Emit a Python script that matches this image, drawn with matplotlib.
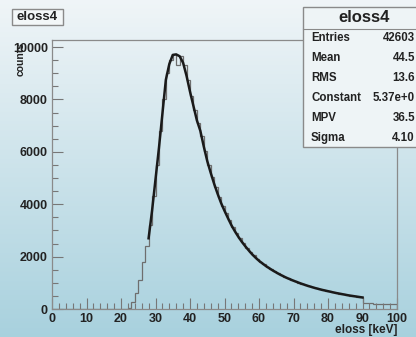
import numpy as np
import matplotlib
matplotlib.use('Agg')
import matplotlib.pyplot as plt
from matplotlib.patches import Rectangle
from matplotlib.ticker import MultipleLocator

# histogram contents, 1 keV bins from 0 to 100
bin_edges = list(range(0, 101))
counts = ([0] * 22 +
          [30, 250, 600, 1100, 1800, 2400, 3200, 4300, 5500, 6800,
           8000, 9000, 9500, 9750, 9300, 9650, 9300, 8750, 8150, 7600,
           7100, 6600, 6050, 5500, 5050, 4650, 4280, 3950, 3650, 3380,
           3120, 2900, 2700, 2510, 2340, 2190, 2050, 1920, 1800, 1700,
           1610, 1520, 1440, 1370, 1300, 1230, 1170, 1110, 1060, 1010,
           960, 915, 875, 835, 800, 765, 730, 700, 670, 640,
           610, 585, 560, 535, 510, 490, 470, 450,
           225, 220, 212, 205, 200, 200, 195, 190, 190, 185])

# landau fit curve as drawn
fit_x = [28, 29, 30, 31, 32, 33, 34, 35, 36, 37, 38, 39, 40, 41, 42, 43, 44,
         45, 46, 47, 48, 49, 50, 51, 52, 53, 54, 55, 56, 57, 58, 59, 60, 62,
         64, 66, 68, 70, 72, 74, 76, 78, 80, 82, 84, 86, 88, 90]
fit_y = [2700, 3750, 4950, 6150, 7450, 8750, 9350, 9700, 9720, 9650, 9400,
         8900, 8300, 7750, 7200, 6800, 6200, 5650, 5200, 4780, 4400, 4050,
         3750, 3470, 3200, 2970, 2760, 2570, 2400, 2240, 2090, 1960, 1840,
         1640, 1470, 1320, 1190, 1080, 980, 890, 810, 740, 680, 620, 570,
         520, 480, 440]

stat_names = ['Entries', 'Mean', 'RMS', 'Constant', 'MPV', 'Sigma']
stat_values = ['42603', '44.5', '13.6', '5.37e+0', '36.5', '4.10']

W, H = 416, 337
fig = plt.figure(figsize=(W / 100.0, H / 100.0), dpi=100)

# bluish slide background
bg = fig.add_axes([0, 0, 1, 1], zorder=-10)
top = np.array([0.94, 0.96, 0.97])
bot = np.array([0.66, 0.82, 0.87])
t = np.linspace(0, 1, 200)[:, None]
grad = (1 - t) * top + t * bot
bg.imshow(grad[:, None, :].repeat(2, axis=1), aspect='auto', extent=[0, 1, 0, 1])
bg.set_axis_off()

ax = fig.add_axes([52 / W, 1 - 309 / H, 345 / W, 269 / H])
ax.set_facecolor('none')
ax.stairs(counts, bin_edges, color='#6e6e6e', lw=0.9)
ax.plot(fit_x, fit_y, color='#1a1a1a', lw=1.8)

ax.set_xlim(0, 100)
ax.set_ylim(0, 10270)
ax.xaxis.set_major_locator(MultipleLocator(10))
ax.xaxis.set_minor_locator(MultipleLocator(2))
ax.yaxis.set_major_locator(MultipleLocator(2000))
ax.yaxis.set_minor_locator(MultipleLocator(500))
ax.tick_params(which='both', direction='in', color='#777777', width=0.8)
ax.tick_params(which='major', length=8, labelsize=9, pad=3)
ax.tick_params(which='minor', length=4)
for lab in ax.get_xticklabels() + ax.get_yticklabels():
    lab.set_fontweight('bold')
    lab.set_family('Liberation Sans')
    lab.set_color('#222222')
for s in ax.spines.values():
    s.set_color('#8a8a8a')
    s.set_linewidth(0.9)

fig.text(397 / W, 1 - 330 / H, 'eloss [keV]', ha='right', va='center',
         fontsize=8.5, fontweight='bold', family='Liberation Sans', color='#222222')
fig.text(21 / W, 1 - 42 / H, 'counts', rotation=90, ha='center', va='top',
         fontsize=7.5, fontweight='bold', family='Liberation Sans', color='#222222')

# title box
fig.patches.append(Rectangle((12 / W, 1 - 25 / H), 51 / W, 16 / H, transform=fig.transFigure,
                             facecolor='#f3f7f8', edgecolor='#8a8a8a', lw=1.0))
fig.text(37.5 / W, 1 - 17 / H, 'eloss4', ha='center', va='center', fontsize=9.5,
         fontweight='bold', family='Liberation Sans', color='#222222')

# stats box
fig.patches.append(Rectangle((303 / W, 1 - 147 / H), 120 / W, 140 / H, transform=fig.transFigure,
                             facecolor='#eef4f6', edgecolor='#8a8a8a', lw=1.0))
fig.lines.append(plt.Line2D([303 / W, 1], [1 - 29 / H, 1 - 29 / H], transform=fig.transFigure,
                            color='#8a8a8a', lw=0.8))
fig.text(364 / W, 1 - 18 / H, 'eloss4', ha='center', va='center', fontsize=12,
         fontweight='bold', family='Liberation Sans', color='#222222')
for i, (n, v) in enumerate(zip(stat_names, stat_values)):
    yy = 1 - (38 + 20 * i) / H
    fig.text(311 / W, yy, n, ha='left', va='center', fontsize=8.3,
             fontweight='bold', family='Liberation Sans', color='#222222')
    fig.text(415 / W, yy, v, ha='right', va='center', fontsize=8.3,
             fontweight='bold', family='Liberation Sans', color='#222222')

fig.savefig('out.png', dpi=100)
